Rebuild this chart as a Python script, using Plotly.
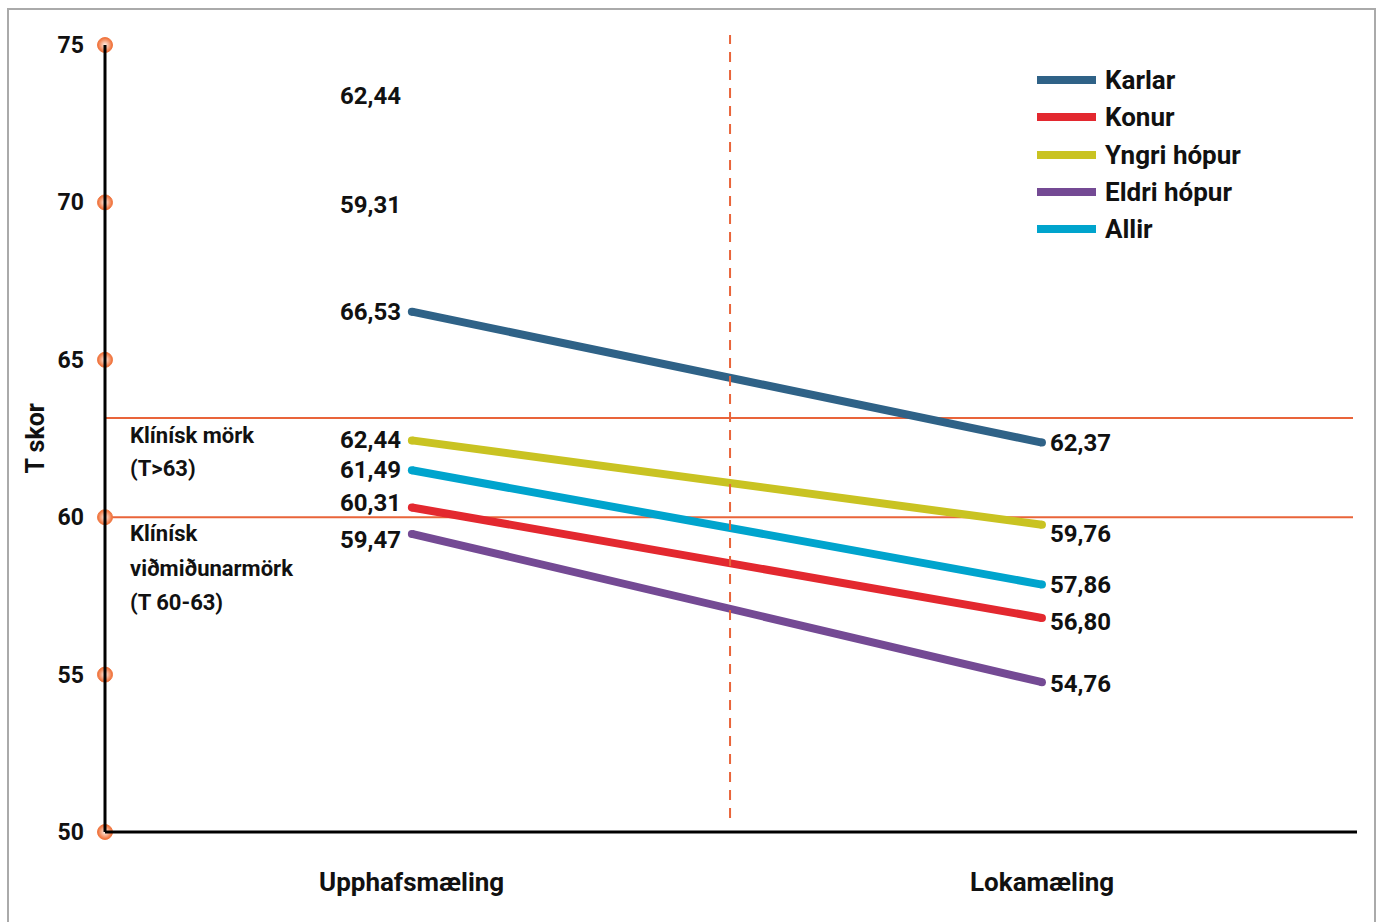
import plotly.graph_objects as go

# ---- data ----
phases = ["Upphafsmæling", "Lokamæling"]
groups = ["Karlar", "Konur", "Yngri hópur", "Eldri hópur", "Allir"]
start_vals = [66.53, 60.31, 62.44, 59.47, 61.49]
end_vals = [62.37, 56.80, 59.76, 54.76, 57.86]
colors = ["#2f6287", "#e3282f", "#c9c322", "#744a94", "#00a4cd"]
y_ticks = [50, 55, 60, 65, 70, 75]
clinical_limit = 63.15
clinical_ref = 60.0
stray_labels = ["62,44", "59,31"]
stray_label_y = [73.38, 69.92]

# ---- layout geometry (pixels of the 1381x922 canvas) ----
W, H = 1381, 922
L, R, T, B = 105, 1357, 45, 832
XMIN, XMAX = -0.487, 1.5
YMIN, YMAX = 50, 75


def px(x):
    return (x - L) / (R - L)


def py(y):
    return (B - y) / (B - T)


NUM_FONT = "Roboto, 'Liberation Sans', sans-serif"
COND_FONT = "Roboto, 'Liberation Sans', sans-serif"


def fmt(v):
    return f"{v:.2f}".replace(".", ",")


fig = go.Figure()

for g, s, e, c in zip(groups, start_vals, end_vals, colors):
    fig.add_trace(go.Scatter(
        x=[0, 1], y=[s, e], mode="lines+markers",
        line=dict(color=c, width=8),
        marker=dict(color=c, size=8, line=dict(width=0)),
        name=g, showlegend=False, hoverinfo="skip",
    ))

# tick markers on the y axis
fig.add_trace(go.Scatter(
    x=[XMIN] * len(y_ticks), y=y_ticks, mode="markers",
    marker=dict(size=15, color="#f06a30",
                gradient=dict(type="radial", color="#fff2ea"),
                line=dict(color="#f07a45", width=1)),
    cliponaxis=False, showlegend=False, hoverinfo="skip",
))

annotations = []
start_shift = [0, 4, 0, -6, 0]
end_shift = [0, -4, -9, -2, 0]
num_font = dict(family=NUM_FONT, size=24, color="#111")
for s, e, ss, es in zip(start_vals, end_vals, start_shift, end_shift):
    annotations.append(dict(x=0, y=s, xref="x", yref="y", text=f"<b>{fmt(s)}</b>",
                            xanchor="right", yanchor="middle", xshift=-9, yshift=ss,
                            showarrow=False, font=num_font))
    annotations.append(dict(x=1, y=e, xref="x", yref="y", text=f"<b>{fmt(e)}</b>",
                            xanchor="left", yanchor="middle", xshift=6, yshift=es,
                            showarrow=False, font=num_font))
for t, yv in zip(stray_labels, stray_label_y):
    annotations.append(dict(x=0, y=yv, xref="x", yref="y", text=f"<b>{t}</b>",
                            xanchor="right", yanchor="middle", xshift=-9,
                            showarrow=False, font=num_font))

# zone text
zone_lines = [("Klínísk mörk", 435), ("(T>63)", 469), ("Klínísk", 533),
              ("viðmiðunarmörk", 568), ("(T 60-63)", 602)]
for t, yy in zone_lines:
    annotations.append(dict(x=px(128), y=py(yy), xref="paper", yref="paper", text=f"<b>{t}</b>",
                            xanchor="left", yanchor="middle", showarrow=False,
                            font=dict(family=COND_FONT, size=22, color="#111")))

# y title
annotations.append(dict(x=px(35), y=0.5, xref="paper", yref="paper", text="<b>T skor</b>",
                        textangle=-90, xanchor="center", yanchor="middle", showarrow=False,
                        font=dict(family=COND_FONT, size=25, color="#111")))

# category labels
for xv, t in zip([0, 1], phases):
    annotations.append(dict(x=xv, y=py(882), xref="x", yref="paper", text=f"<b>{t}</b>",
                            xanchor="center", yanchor="middle", showarrow=False,
                            font=dict(family=COND_FONT, size=26, color="#111")))

shapes = []
# legend (manual)
leg_y = [80, 117, 155, 192, 229]
for g, c, yy in zip(groups, colors, leg_y):
    shapes.append(dict(type="line", xref="paper", yref="paper",
                       x0=px(1037), x1=px(1096), y0=py(yy), y1=py(yy),
                       line=dict(color=c, width=8)))
    annotations.append(dict(x=px(1103), y=py(yy), xref="paper", yref="paper", text=f"<b>{g}</b>",
                            xanchor="left", yanchor="middle", showarrow=False,
                            font=dict(family=COND_FONT, size=26, color="#111")))

# clinical lines
for yv in [clinical_limit, clinical_ref]:
    shapes.append(dict(type="line", xref="paper", yref="y", x0=0, x1=px(1353),
                       y0=yv, y1=yv, line=dict(color="#e9643a", width=2), layer="below"))
# dashed divider
shapes.append(dict(type="line", xref="x", yref="paper", x0=0.505, x1=0.505,
                   y0=py(818), y1=py(35), line=dict(color="#e9643a", width=2, dash="10px,8px")))
# outer frame
shapes.append(dict(type="rect", xref="paper", yref="paper",
                   x0=px(8), x1=px(1375), y0=py(930), y1=py(9),
                   line=dict(color="#aaaaaa", width=2), fillcolor="rgba(0,0,0,0)"))
# axes lines
shapes.append(dict(type="line", xref="paper", yref="paper", x0=0, x1=0, y0=0, y1=1,
                   line=dict(color="#000", width=3)))
shapes.append(dict(type="line", xref="paper", yref="paper", x0=0, x1=1, y0=0, y1=0,
                   line=dict(color="#000", width=3)))

fig.update_layout(
    width=W, height=H,
    margin=dict(l=L, r=W - R, t=T, b=H - B),
    paper_bgcolor="white", plot_bgcolor="white",
    xaxis=dict(range=[XMIN, XMAX], showgrid=False, zeroline=False, showticklabels=False,
               showline=False, fixedrange=True),
    yaxis=dict(range=[YMIN, YMAX], tickvals=y_ticks, ticktext=[f"<b>{v}</b>" for v in y_ticks],
               showgrid=False, zeroline=False, showline=False, ticks="", ticklabelstandoff=20,
               tickfont=dict(family=NUM_FONT, size=23, color="#111"), fixedrange=True),
    annotations=annotations, shapes=shapes, showlegend=False,
)

fig.write_html("out.html")
